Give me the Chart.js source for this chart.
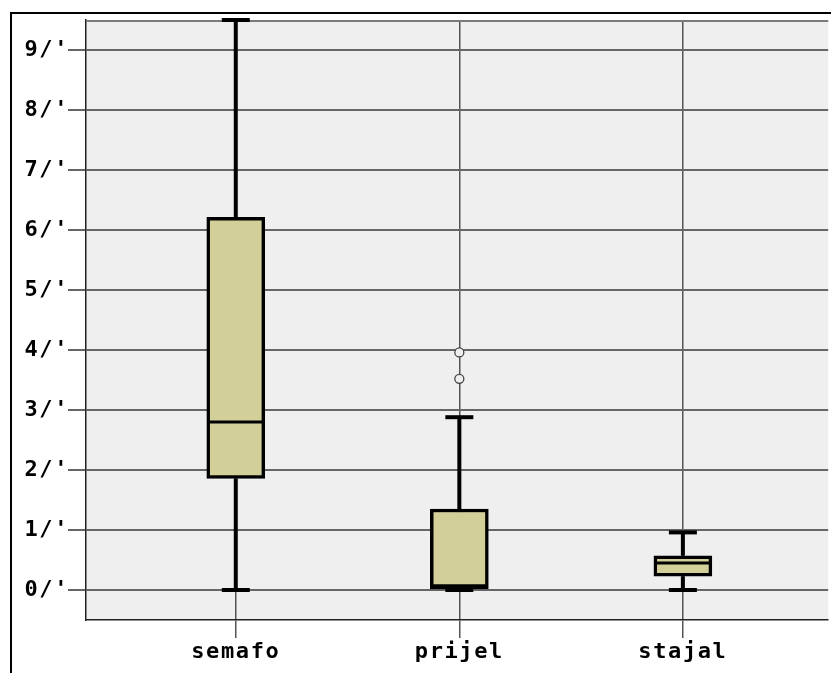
<!DOCTYPE html>
<html>
<head>
<meta charset="utf-8">
<script src="https://cdn.jsdelivr.net/npm/chart.js@4/dist/chart.umd.min.js"></script>
<style>
  html, body { margin: 0; padding: 0; background: #fff; overflow: hidden; }
  #wrap { position: relative; width: 831px; height: 673px; overflow: hidden; }
  #frame {
    position: absolute; left: 10px; top: 12px; width: 900px; height: 700px;
    border-top: 2px solid #000; border-left: 2px solid #000;
  }
  #chart { position: absolute; left: 0; top: 0; }
</style>
</head>
<body>
<div id="wrap">
  <div id="frame"></div>
  <canvas id="chart" width="834" height="673"></canvas>
</div>
<script>
// box plot values
const categories = ["semafo", "prijel", "stajal"];
const whiskerLow = [0, 0, 0];
const q1 = [1.86, 0.0, 0.23];
const median = [2.8, 0.07, 0.45];
const q3 = [6.21, 1.35, 0.57];
const whiskerHigh = [9.5, 2.88, 0.96];
const outlierCat = [1, 1];
const outlierVal = [3.52, 3.96];

const yTickValues = [0, 1, 2, 3, 4, 5, 6, 7, 8, 9];
const yTickLabels = ["0/'", "1/'", "2/'", "3/'", "4/'", "5/'", "6/'", "7/'", "8/'", "9/'"];

const font = { family: "'DejaVu Sans Mono', monospace", size: 22, weight: "bold" };

//
// PLUGIN: background, whiskers, medians
//

const boxPlotPlugin = {
  id: "boxPlot",
  beforeDraw(chart) {
    const { ctx, chartArea: a } = chart;
    ctx.letterSpacing = "1.6px";
    ctx.save();
    ctx.fillStyle = "#efefef";
    ctx.fillRect(a.left, a.top, a.right - a.left, a.bottom - a.top);
    ctx.restore();
  },
  beforeDatasetsDraw(chart) {
    const { ctx, chartArea: a } = chart;
    const { x, y } = chart.scales;
    ctx.save();
    // top edge of the plot
    ctx.strokeStyle = "#7a7a7a";
    ctx.lineWidth = 2;
    ctx.beginPath();
    ctx.moveTo(a.left, a.top + 1);
    ctx.lineTo(a.right, a.top + 1);
    ctx.stroke();
    // whiskers and caps
    ctx.strokeStyle = "#000";
    ctx.lineWidth = 4;
    categories.forEach((c, i) => {
      const cx = x.getPixelForValue(i);
      [[whiskerLow[i], q1[i]], [whiskerHigh[i], q3[i]]].forEach(([end, edge]) => {
        const yEnd = y.getPixelForValue(end);
        const yEdge = y.getPixelForValue(edge);
        ctx.beginPath();
        ctx.moveTo(cx, yEnd);
        ctx.lineTo(cx, yEdge);
        ctx.stroke();
        ctx.beginPath();
        ctx.moveTo(cx - 14, yEnd);
        ctx.lineTo(cx + 14, yEnd);
        ctx.stroke();
      });
    });
    ctx.restore();
  },
  afterDatasetsDraw(chart) {
    const { ctx } = chart;
    const { x, y } = chart.scales;
    ctx.save();
    ctx.strokeStyle = "#000";
    ctx.lineWidth = 3;
    categories.forEach((c, i) => {
      const cx = x.getPixelForValue(i);
      const my = y.getPixelForValue(median[i]);
      ctx.beginPath();
      ctx.moveTo(cx - 28, my);
      ctx.lineTo(cx + 28, my);
      ctx.stroke();
    });
    ctx.restore();
  },
};

//
// CHART
//

new Chart(document.getElementById("chart"), {
  type: "bar",
  data: {
    datasets: [
      {
        type: "bar",
        data: categories.map((c, i) => ({ x: i, y: [q1[i], q3[i]] })),
        backgroundColor: "#d3cf98",
        borderColor: "#000",
        borderWidth: 3.5,
        borderSkipped: false,
        barThickness: 58,
      },
      {
        type: "scatter",
        data: outlierCat.map((c, i) => ({ x: c, y: outlierVal[i] })),
        pointRadius: 4.5,
        pointBorderWidth: 1.3,
        pointBorderColor: "#444",
        pointBackgroundColor: "#efefef",
      },
    ],
  },
  options: {
    responsive: false,
    animation: false,
    layout: { padding: { top: 20, left: 0, right: 0, bottom: 0 } },
    plugins: { legend: { display: false }, tooltip: { enabled: false } },
    scales: {
      x: {
        type: "linear",
        offset: false,
        min: -0.67,
        max: 2.65,
        afterBuildTicks: (s) => {
          s.ticks = categories.map((c, i) => ({ value: i }));
        },
        afterFit: (s) => {
          s.height = 53;
        },
        ticks: {
          callback: (v, idx) => categories[idx],
          font,
          color: "#000",
          padding: 1,
          maxRotation: 0,
          autoSkip: false,
        },
        grid: {
          offset: false,
          color: "#555",
          lineWidth: 1.5,
          tickLength: 18,
          tickColor: "#555",
          tickWidth: 1.5,
        },
        border: { color: "#222", width: 1.5 },
      },
      y: {
        min: -0.5,
        max: 9.5,
        afterBuildTicks: (s) => {
          s.ticks = yTickValues.map((v) => ({ value: v }));
        },
        afterFit: (s) => {
          s.width = 86;
        },
        ticks: {
          callback: (v, idx) => yTickLabels[idx],
          font,
          color: "#000",
          padding: -1,
        },
        grid: { color: "#666", lineWidth: 2, tickLength: 18, tickColor: "#666", tickWidth: 2 },
        border: { color: "#222", width: 1.5 },
      },
    },
  },
  plugins: [boxPlotPlugin],
});
</script>
</body>
</html>
